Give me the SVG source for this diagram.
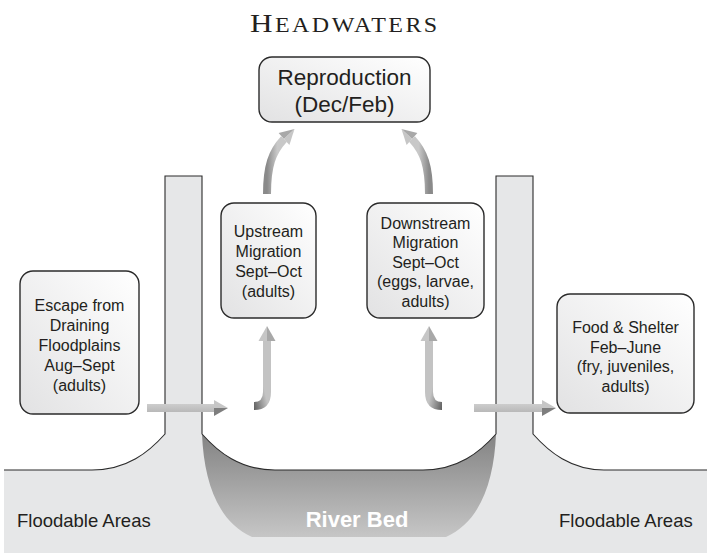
<svg xmlns="http://www.w3.org/2000/svg" width="707" height="553" viewBox="0 0 707 553">
<defs>
<style>
.box{stroke:#2b2b2b;stroke-width:1.4;fill:url(#boxg)}
.t{font-family:"Liberation Sans",Arial,sans-serif;font-size:16px;fill:#231f20;text-anchor:middle}
.edge{fill:none;stroke:#2b2b2b;stroke-width:1.1}
.lbl{font-family:"Liberation Sans",Arial,sans-serif;font-size:18.5px;fill:#231f20}
.lite{fill:#c6c6c6}
.dark{fill:#7e7e7e}
.mid{fill:#a8a8a8}
</style>
<linearGradient id="boxg" x1="0" y1="1" x2="1" y2="0">
<stop offset="0" stop-color="#e2e2e3"/>
<stop offset="1" stop-color="#ffffff"/>
</linearGradient>
<linearGradient id="riverg" x1="0" y1="436" x2="0" y2="537" gradientUnits="userSpaceOnUse">
<stop offset="0" stop-color="#848484"/>
<stop offset="1" stop-color="#c6c6c6"/>
</linearGradient>
<linearGradient id="shaftH" x1="0" y1="0" x2="0" y2="1">
<stop offset="0" stop-color="#cdcdcd"/>
<stop offset="1" stop-color="#b9b9b9"/>
</linearGradient>
<linearGradient id="hookL" x1="1" y1="0" x2="0" y2="1">
<stop offset="0.55" stop-color="#c3c3c3"/>
<stop offset="1" stop-color="#5e5e5e"/>
</linearGradient>
<linearGradient id="hookR" x1="0" y1="0" x2="1" y2="1">
<stop offset="0.55" stop-color="#c3c3c3"/>
<stop offset="1" stop-color="#5e5e5e"/>
</linearGradient>
<linearGradient id="curvL" x1="0" y1="0" x2="1" y2="0">
<stop offset="0" stop-color="#8a8a8a"/>
<stop offset="0.6" stop-color="#c8c8c8"/>
</linearGradient>
<linearGradient id="curvR" x1="1" y1="0" x2="0" y2="0">
<stop offset="0" stop-color="#8a8a8a"/>
<stop offset="0.6" stop-color="#c8c8c8"/>
</linearGradient>
</defs>
<rect width="707" height="553" fill="#ffffff"/>

<g id="ground">
<path d="M4,553 L4,470 L92,470 C127,470 149,452 165,434 L165,176 L202,176 L202,434 C218,452 240,470 275,470 L423,470 C458,470 480,452 496,434 L496,176 L533,176 L533,434 C549,452 571,470 604,470 L707,470 L707,553 Z" fill="#e6e7e8"/>
<path d="M202,434 C218,452 240,470 275,470 L423,470 C458,470 480,452 496,434 C494,482 480,522 446,537 L252,537 C218,522 204,482 202,434 Z" fill="url(#riverg)"/>
<path class="edge" d="M4,470 L92,470 C127,470 149,452 165,434 L165,176 L202,176 L202,434 C218,452 240,470 275,470 L423,470 C458,470 480,452 496,434 L496,176 L533,176 L533,434 C549,452 571,470 604,470 L707,470"/>
<text class="lbl" x="17" y="527">Floodable Areas</text>
<text class="lbl" x="559" y="527">Floodable Areas</text>
<text x="357" y="527" font-family="Liberation Sans,Arial,sans-serif" font-size="22px" font-weight="bold" fill="#ffffff" text-anchor="middle">River Bed</text>
</g>

<g id="title">
<text transform="translate(250,32) scale(1.2,1)" x="0" y="0" font-family="Liberation Serif,Times New Roman,serif" fill="#231f20" textLength="156" lengthAdjust="spacing"><tspan font-size="26px">H</tspan><tspan font-size="20px">EADWATERS</tspan></text>
</g>

<g id="reproduction">
<rect class="box" x="259" y="57" width="171" height="65" rx="13"/>
<text class="t" style="font-size:22.5px" x="344.5" y="85">Reproduction</text>
<text class="t" style="font-size:22.5px" x="344.5" y="111.5">(Dec/Feb)</text>
</g>

<g id="upstream">
<rect class="box" x="221" y="203" width="95" height="115" rx="13"/>
<text class="t" x="268.5" y="237">Upstream</text>
<text class="t" x="268.5" y="257">Migration</text>
<text class="t" x="268.5" y="277">Sept–Oct</text>
<text class="t" x="268.5" y="297">(adults)</text>
</g>

<g id="downstream">
<rect class="box" x="367" y="203" width="117" height="115" rx="13"/>
<text class="t" x="425.5" y="228.5">Downstream</text>
<text class="t" x="425.5" y="248">Migration</text>
<text class="t" x="425.5" y="267.5">Sept–Oct</text>
<text class="t" x="425.5" y="287">(eggs, larvae,</text>
<text class="t" x="425.5" y="306.5">adults)</text>
</g>

<g id="escape">
<rect class="box" x="20" y="271" width="119" height="143" rx="13"/>
<text class="t" x="79.5" y="310.7">Escape from</text>
<text class="t" x="79.5" y="330.7">Draining</text>
<text class="t" x="79.5" y="350.7">Floodplains</text>
<text class="t" x="79.5" y="370.7">Aug–Sept</text>
<text class="t" x="79.5" y="390.7">(adults)</text>
</g>

<g id="food">
<rect class="box" x="557" y="294" width="137" height="119" rx="13"/>
<text class="t" x="625.5" y="333">Food &amp; Shelter</text>
<text class="t" x="625.5" y="352.5">Feb–June</text>
<text class="t" x="625.5" y="372">(fry, juveniles,</text>
<text class="t" x="625.5" y="391.5">adults)</text>
</g>

<g id="connectors">
<rect x="147" y="404" width="67" height="8" fill="url(#shaftH)"/>
<polygon class="lite" points="214,400 228,408 214,408"/>
<polygon class="dark" points="214,408 228,408 214,416"/>
<rect x="474" y="404" width="68" height="8" fill="url(#shaftH)"/>
<polygon class="lite" points="542,400 556,408 542,408"/>
<polygon class="dark" points="542,408 556,408 542,416"/>
<path d="M263,340 L263,392 Q263,402 254,402 L254,410 Q271,410 271,392 L271,340 Z" fill="url(#hookL)"/>
<polygon class="lite" points="267,326 267,341 258.5,341"/>
<polygon class="mid" points="267,326 275.5,341 267,341"/>
<path d="M433,340 L433,392 Q433,402 442,402 L442,410 Q425,410 425,392 L425,340 Z" fill="url(#hookR)"/>
<polygon class="lite" points="429,326 429,341 420.5,341"/>
<polygon class="mid" points="429,326 437.5,341 429,341"/>
<path d="M267,194 C267,166 272,152 284,139" fill="none" stroke="url(#curvL)" stroke-width="8"/>
<polygon class="mid" points="294.5,129 278.6,133.1 284,139"/>
<polygon class="lite" points="294.5,129 284,139 289.4,144.9"/>
<path d="M429,194 C429,166 424,152 412,139" fill="none" stroke="url(#curvR)" stroke-width="8"/>
<polygon class="mid" points="401.5,129 417.4,133.1 412,139"/>
<polygon class="lite" points="401.5,129 412,139 406.6,144.9"/>
</g>
</svg>
